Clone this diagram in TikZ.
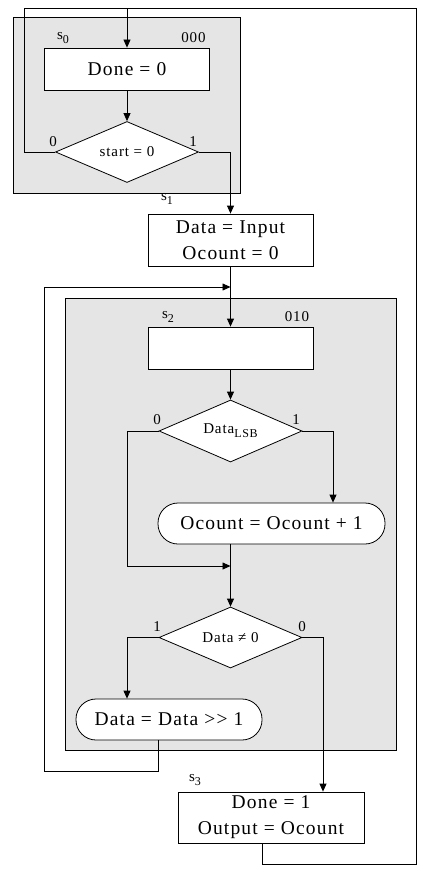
\documentclass[tikz,border=0pt]{standalone}
\usepackage{fontspec}
\setmainfont{Liberation Serif}
\newfontfamily\spacedfont[LetterSpace=6]{Liberation Serif}
\usetikzlibrary{arrows.meta,shapes.geometric}
\newcommand{\lowsub}[1]{\raisebox{-4pt}{\fontsize{12}{12}\selectfont #1}}
\tikzset{
  arr/.style={-{Triangle[length=8pt,width=7pt]}},
  line/.style={draw=black, line width=0.8pt},
  graybox/.style={draw=black, line width=0.8pt, fill=gray!20, inner sep=0pt, anchor=north west},
  actbox/.style={draw=black, line width=0.8pt, fill=white, inner sep=0pt, align=center,
    font=\spacedfont\fontsize{19.5}{26}\selectfont},
  roundbox/.style={actbox, rounded corners=20pt},
  decision/.style={diamond, draw=black, line width=0.8pt, fill=white, inner sep=0pt, aspect=2.35,
    font=\spacedfont\fontsize{15}{18}\selectfont},
  lbl/.style={inner sep=0pt, font=\spacedfont\fontsize{15}{16}\selectfont},
}
\begin{document}
\begin{tikzpicture}[x=1pt,y=-1pt]
\useasboundingbox (0,0) rectangle (429,872);
% state boxes
\node[graybox, minimum width=227pt, minimum height=176pt] (s0box) at (13,17) {};
\node[graybox, minimum width=331pt, minimum height=452pt] (s2box) at (65,298) {};
% action / decision nodes
\node[actbox, minimum width=165pt, minimum height=42pt] (done0) at (127,69) {Done = 0};
\node[decision, minimum width=143pt, minimum height=61pt] (d1) at (127,152) {start = 0};
\node[actbox, minimum width=165pt, minimum height=52pt] (inbox) at (230.5,240) {Data = Input\\Ocount = 0};
\node[actbox, minimum width=165pt, minimum height=42pt] (empty) at (230.5,348) {};
\node[decision, minimum width=143pt, minimum height=62pt] (d2) at (230.5,431) {Data\lowsub{LSB}};
\node[roundbox, minimum width=227pt, minimum height=41pt] (oc) at (271.5,523.5) {Ocount = Ocount + 1};
\node[decision, minimum width=143pt, minimum height=61pt] (d3) at (230.5,637.5) {Data ≠ 0};
\node[roundbox, minimum width=186pt, minimum height=41pt] (shift) at (169,719.5) {Data = Data >{}> 1};
\node[actbox, minimum width=186pt, minimum height=51pt] (out) at (271,817.5) {Done = 1\\Output = Ocount};
% labels
\node[lbl] (ls0) at (63,38) {s\lowsub{0}};
\node[lbl] (c000) at (193.5,38) {000};
\node[lbl] (ld1a) at (53,142) {0};
\node[lbl] (ld1b) at (193,142) {1};
\node[lbl] (ls1) at (167,199) {s\lowsub{1}};
\node[lbl] (ls2) at (168,317) {s\lowsub{2}};
\node[lbl] (c010) at (297,317) {010};
\node[lbl] (ld2a) at (157,420) {0};
\node[lbl] (ld2b) at (296,420) {1};
\node[lbl] (ld3a) at (157,627) {1};
\node[lbl] (ld3b) at (302,627) {0};
\node[lbl] (ls3) at (195,780) {s\lowsub{3}};
% coordinates
\coordinate (rtop) at (416,8);
\coordinate (rbot) at (416,864);
\coordinate (ltop) at (24,8);
\coordinate (j1) at (230.5,287);
\coordinate (lb) at (44,771);
\coordinate (l2) at (127,566);
\coordinate (j2) at (230.5,566);
% connectors
\draw[line, arr] ([xshift=-9pt]out.south) |- (rbot) -- (rtop) -| (done0.north);
\draw[line] (d1.west) -| (ltop) -- (ltop -| done0.north);
\draw[line, arr] (done0.south) -- (d1.north);
\draw[line, arr] (d1.east) -| (inbox.north);
\draw[line, arr] (inbox.south) -- (empty.north);
\draw[line, arr] ([xshift=-11pt]shift.south) |- (lb) |- (j1);
\draw[line, arr] (empty.south) -- (d2.north);
\draw[line, arr] (d2.west) -| (l2) -- (j2);
\draw[line, arr] (d2.east) -| ([xshift=61.5pt]oc.north);
\draw[line] ([xshift=-41pt]oc.south) -- (j2);
\draw[line, arr] (j2) -- (d3.north);
\draw[line, arr] (d3.west) -| ([xshift=-42pt]shift.north);
\draw[line, arr] (d3.east) -| ([xshift=52pt]out.north);
\end{tikzpicture}
\end{document}
